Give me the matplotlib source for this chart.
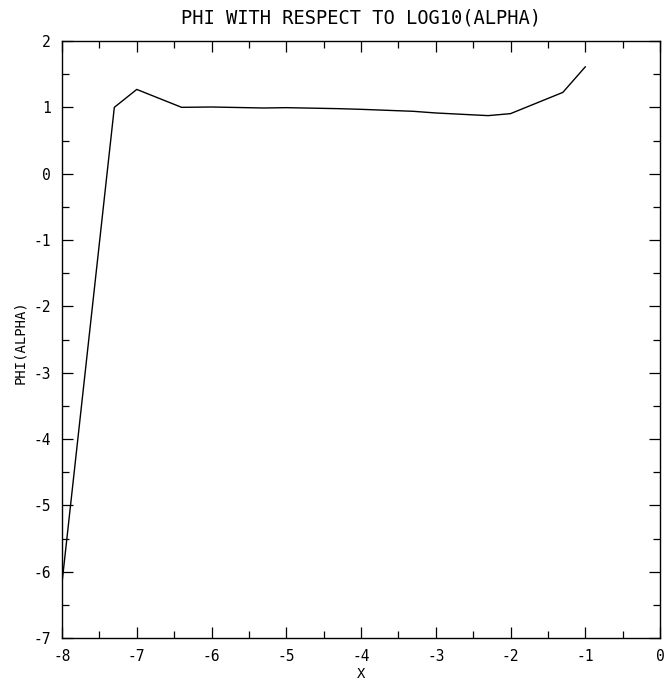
import matplotlib
matplotlib.use("Agg")
import matplotlib.pyplot as plt
from matplotlib.ticker import MultipleLocator

log_alpha = [-8.0, -7.3, -7.0, -6.4, -6.0, -5.3, -5.0, -4.3, -4.0, -3.3, -3.0, -2.3, -2.0, -1.3, -1.0]
phi = [-6.17, 1.0, 1.27, 1.0, 1.005, 0.99, 0.995, 0.98, 0.97, 0.94, 0.915, 0.875, 0.905, 1.225, 1.61]

title = "PHI WITH RESPECT TO LOG10(ALPHA)"
xlabel = "X"
ylabel = "PHI(ALPHA)"

plt.rcParams['font.family'] = ['DejaVu Sans Mono', 'DejaVu Sans']

fig = plt.figure(figsize=(6.64, 6.83), dpi=100)
ax = fig.add_axes([62/664, 1-638/683, (660-62)/664, (638-41)/683])
ax.plot(log_alpha, phi, color='black', linewidth=1.0)

ax.set_xlim(-8, 0)
ax.set_ylim(-7, 2)
ax.xaxis.set_major_locator(MultipleLocator(1))
ax.xaxis.set_minor_locator(MultipleLocator(0.5))
ax.yaxis.set_major_locator(MultipleLocator(1))
ax.yaxis.set_minor_locator(MultipleLocator(0.5))
ax.tick_params(which='both', direction='in', top=True, right=True,
               labeltop=False, labelright=False, width=0.9, color='black')
ax.tick_params(which='major', length=8, labelsize=10.5, pad=8)
ax.tick_params(which='minor', length=5)
for s in ax.spines.values():
    s.set_linewidth(1.0)
    s.set_color('black')

ax.set_xticklabels([f"{int(v)}" for v in ax.get_xticks()])
ax.set_yticklabels([f"{int(v)}" for v in ax.get_yticks()])

fig.text(361/664, 1-18/683, title, ha='center', va='center', fontsize=13.5)
fig.text(361/664, 1-674/683, xlabel, ha='center', va='center', fontsize=10)
fig.text(20/664, 1-342/683, ylabel, ha='center', va='center', rotation=90, fontsize=10)

fig.savefig("out.png", dpi=100)
